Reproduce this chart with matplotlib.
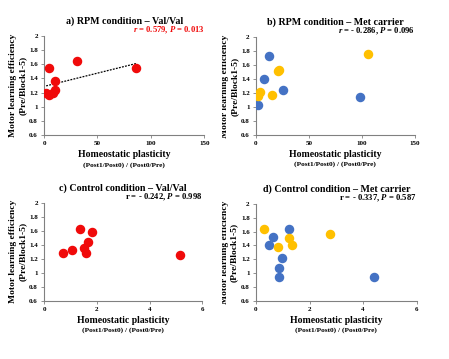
import matplotlib.pyplot as plt
import numpy as np
from matplotlib.transforms import Bbox

# data
a_x = [4.7, 30.6, 86, 10, 2, 5, 8.5, 10.5]
a_y = [1.54, 1.64, 1.54, 1.36, 1.20, 1.17, 1.20, 1.23]

b_blue_x = [12.5, 7.2, 25.7, 98.5, 2.4]
b_blue_y = [1.73, 1.40, 1.245, 1.145, 1.035]
b_gold_x = [105.4, 22, 20.8, 4, 1.5, 15.3]
b_gold_y = [1.75, 1.53, 1.51, 1.22, 1.15, 1.17]

c_x = [1.36, 1.83, 1.65, 1.53, 1.58, 0.71, 1.06, 5.15]
c_y = [1.63, 1.58, 1.44, 1.36, 1.28, 1.28, 1.32, 1.25]

d_blue_x = [1.24, 0.62, 0.50, 0.98, 0.86, 0.85, 4.42]
d_blue_y = [1.64, 1.52, 1.40, 1.22, 1.07, 0.95, 0.95]
d_gold_x = [0.30, 1.23, 1.34, 0.81, 2.78]
d_gold_y = [1.64, 1.51, 1.41, 1.38, 1.56]

y_ticks = [0.6, 0.8, 1, 1.2, 1.4, 1.6, 1.8, 2]
y_labels = ['0.6', '0.8', '1', '1.2', '1.4', '1.6', '1.8', '2']

RED = '#F00A0A'
BLUE = '#4472C4'
GOLD = '#FFC000'

plt.rcParams['font.family'] = ['Liberation Serif', 'DejaVu Serif']
plt.rcParams['font.weight'] = 'bold'
plt.rcParams['mathtext.fontset'] = 'custom'
plt.rcParams['mathtext.rm'] = 'Liberation Serif:bold'
plt.rcParams['mathtext.it'] = 'Liberation Serif:italic:bold'
plt.rcParams['mathtext.bf'] = 'Liberation Serif:bold'

fig = plt.figure(figsize=(4.49, 3.59), dpi=100)

ax_a = fig.add_axes([0.098, 0.624, 0.357, 0.276])
ax_b = fig.add_axes([0.570, 0.624, 0.354, 0.273])
ax_c = fig.add_axes([0.098, 0.162, 0.353, 0.273])
ax_d = fig.add_axes([0.570, 0.162, 0.358, 0.270])


def style(ax, xmax, xticks, clip_left=None):
    ax.set_xlim(0, xmax)
    ax.set_ylim(0.6, 2)
    ax.set_xticks(xticks)
    ax.set_yticks(y_ticks)
    ax.set_yticklabels(y_labels)
    for s in ['top', 'right']:
        ax.spines[s].set_visible(False)
    for s in ['left', 'bottom']:
        ax.spines[s].set_color('#808080')
        ax.spines[s].set_linewidth(0.8)
    ax.tick_params(labelsize=5, length=2.5, width=0.6, color='#808080', pad=2)
    for t in ax.get_xticklabels() + ax.get_yticklabels():
        t.set_fontweight('bold')
    t1 = ax.text(-0.195, 0.5, 'Motor learning efficiency', transform=ax.transAxes,
                 rotation=90, ha='center', va='center', fontsize=6.8, fontweight='bold')
    ax.text(-0.135, 0.5, '(Pre/Block1-5)', transform=ax.transAxes,
            rotation=90, ha='center', va='center', fontsize=6.8, fontweight='bold')
    if clip_left is not None:
        t1.set_clip_box(Bbox.from_extents(clip_left, 0, 449, 359))
        t1.set_clip_on(True)
    ax.text(0.5, -0.2, 'Homeostatic plasticity', transform=ax.transAxes,
            ha='center', va='center', fontsize=7, fontweight='bold')
    ax.text(0.5, -0.3, '(Post1/Post0) / (Post0/Pre)', transform=ax.transAxes,
            ha='center', va='center', fontsize=5.3, fontweight='bold')


def header(ax, title, stat, color):
    ax.set_title(title, fontsize=7.2, fontweight='bold', pad=9)
    ax.text(1.0, 1.055, stat, transform=ax.transAxes, ha='right', va='center',
            fontsize=6.2, fontweight='bold', color=color)


# a) RPM Val/Val
ax_a.scatter(a_x, a_y, s=34, color=RED, zorder=3)
k, b0 = np.polyfit(a_x, a_y, 1)
xx = np.array([min(a_x), max(a_x)])
ax_a.plot(xx, k * xx + b0, color='black', linestyle=(0, (1.5, 1)), linewidth=0.9, zorder=2)
style(ax_a, 150, [0, 50, 100, 150])
header(ax_a, 'a) RPM condition \u2013 Val/Val',
       r'$\it{r}$ = 0.579, $\it{P}$ = 0.013', RED)

# b) RPM Met carrier
ax_b.scatter(b_blue_x, b_blue_y, s=34, color=BLUE, zorder=3)
ax_b.scatter(b_gold_x, b_gold_y, s=34, color=GOLD, zorder=3)
style(ax_b, 150, [0, 50, 100, 150], clip_left=222)
header(ax_b, 'b) RPM condition \u2013 Met carrier',
       r'$\it{r}$ = - 0.286, $\it{P}$ = 0.096', 'black')

# c) Control Val/Val
ax_c.scatter(c_x, c_y, s=34, color=RED, zorder=3)
style(ax_c, 6, [0, 2, 4, 6])
header(ax_c, 'c) Control condition \u2013 Val/Val',
       r'r = - 0.242, $\it{P}$ = 0.998', 'black')

# d) Control Met carrier
ax_d.scatter(d_blue_x, d_blue_y, s=34, color=BLUE, zorder=3)
ax_d.scatter(d_gold_x, d_gold_y, s=34, color=GOLD, zorder=3)
style(ax_d, 6, [0, 2, 4, 6], clip_left=222)
header(ax_d, 'd) Control condition \u2013 Met carrier',
       r'r = - 0.337, $\it{P}$ = 0.587', 'black')

fig.savefig('out.png', dpi=100)
